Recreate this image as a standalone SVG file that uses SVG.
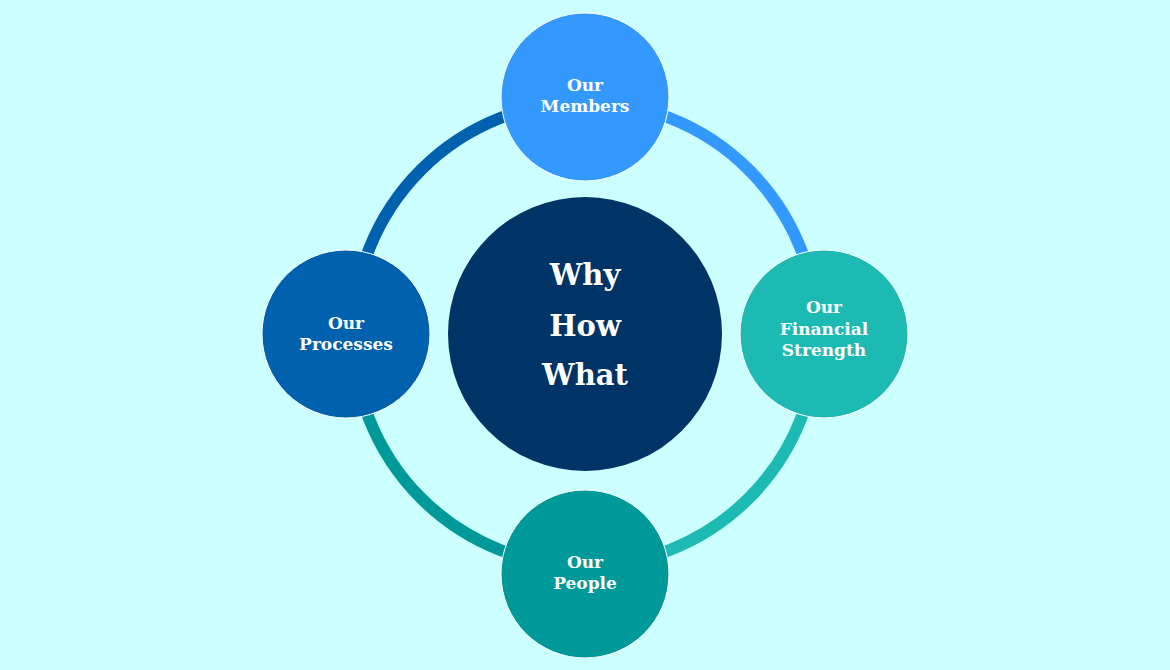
<svg xmlns="http://www.w3.org/2000/svg" width="1170" height="670" viewBox="0 0 1170 670">
  <style>
    .arc { fill: none; stroke-width: 12; }
    .node { stroke: #ffffff; stroke-width: 1; }
    .lbl { font-family: "DejaVu Serif", "Liberation Serif", serif; font-weight: bold; font-size: 17px; fill: #ffffff; text-anchor: middle; }
    .big { font-family: "DejaVu Serif", "Liberation Serif", serif; font-weight: bold; font-size: 29px; fill: #ffffff; text-anchor: middle; }
  </style>
  <rect width="1170" height="670" fill="#CCFFFF"/>
  <g id="connectors">
    <path class="arc" stroke="#3399FF" d="M585,102 A232,232 0 0 1 817,334"/>
    <path class="arc" stroke="#1DBAB4" d="M817,334 A232,232 0 0 1 585,566"/>
    <path class="arc" stroke="#009999" d="M585,566 A232,232 0 0 1 353,334"/>
    <path class="arc" stroke="#0061AE" d="M353,334 A232,232 0 0 1 585,102"/>
  </g>
  <g id="center">
    <circle cx="585" cy="334" r="137" fill="#003366"/>
    <text class="big" x="585" y="285">Why</text>
    <text class="big" x="585" y="336">How</text>
    <text class="big" x="585" y="385">What</text>
  </g>
  <g id="members">
    <circle class="node" cx="585" cy="97" r="84" fill="#3399FF"/>
    <text class="lbl" x="585" y="91">Our</text>
    <text class="lbl" x="585" y="112">Members</text>
  </g>
  <g id="financial">
    <circle class="node" cx="824" cy="334" r="84" fill="#1DBAB4"/>
    <text class="lbl" x="824" y="313">Our</text>
    <text class="lbl" x="824" y="335">Financial</text>
    <text class="lbl" x="824" y="356">Strength</text>
  </g>
  <g id="people">
    <circle class="node" cx="585" cy="574" r="84" fill="#009999"/>
    <text class="lbl" x="585" y="568">Our</text>
    <text class="lbl" x="585" y="589">People</text>
  </g>
  <g id="processes">
    <circle class="node" cx="346" cy="334" r="84" fill="#0061AE"/>
    <text class="lbl" x="346" y="329">Our</text>
    <text class="lbl" x="346" y="350">Processes</text>
  </g>
</svg>
